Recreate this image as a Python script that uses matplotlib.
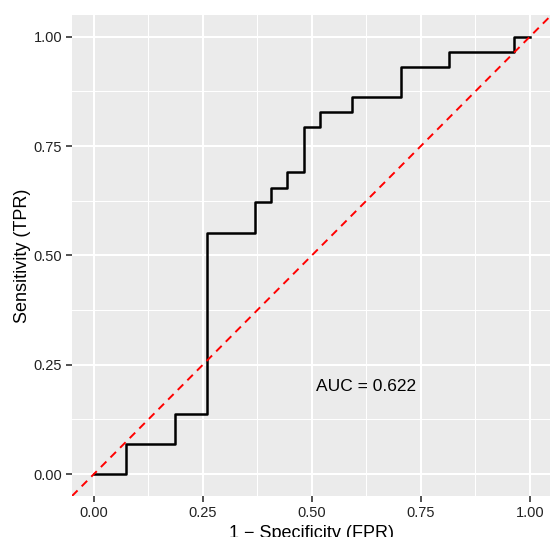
import matplotlib
matplotlib.use("Agg")
import matplotlib.pyplot as plt
from matplotlib.ticker import MultipleLocator

# ROC step corners
fpr = [0.0, 0.074, 0.185, 0.259, 0.370, 0.407, 0.444, 0.481, 0.519, 0.593, 0.704, 0.815, 0.963, 1.0]
tpr = [0.0, 0.069, 0.138, 0.552, 0.621, 0.655, 0.690, 0.793, 0.828, 0.862, 0.931, 0.966, 1.0, 1.0]
tick_vals = [0.0, 0.25, 0.5, 0.75, 1.0]
tick_labels = ["0.00", "0.25", "0.50", "0.75", "1.00"]
auc_label = "AUC = 0.622"

plt.rcParams["font.family"] = ["Liberation Sans", "DejaVu Sans"]

fig = plt.figure(figsize=(5.5, 5.37), dpi=100)
ax = fig.add_axes([0.131, 0.0764, 0.872, 0.896])
ax.set_facecolor("#EBEBEB")
for s in ax.spines.values():
    s.set_visible(False)

ax.set_xlim(-0.05, 1.05)
ax.set_ylim(-0.05, 1.05)
ax.set_xticks(tick_vals)
ax.set_xticklabels(tick_labels)
ax.set_yticks(tick_vals)
ax.set_yticklabels(tick_labels)
ax.xaxis.set_minor_locator(MultipleLocator(0.125))
ax.yaxis.set_minor_locator(MultipleLocator(0.125))
ax.grid(which="major", color="white", linewidth=1.5)
ax.grid(which="minor", color="white", linewidth=0.75)
ax.tick_params(which="major", length=4, width=1.2, color="#333333",
               labelcolor="#222222", labelsize=10.5, pad=3)
ax.tick_params(which="minor", length=0)
ax.set_axisbelow(True)

ax.step(fpr, tpr, where="post", color="black", linewidth=1.8, zorder=3)
ax.axline((0, 0), slope=1, color="red", linestyle=(0, (4, 3)), linewidth=1.4, zorder=4)

ax.text(0.625, 0.2, auc_label, fontsize=12.5, ha="center", va="center", color="black")

ax.set_xlabel("1 \u2212 Specificity (FPR)", fontsize=13, labelpad=4)
ax.set_ylabel("Sensitivity (TPR)", fontsize=13, labelpad=1.5)

fig.savefig("out.png", dpi=100)
